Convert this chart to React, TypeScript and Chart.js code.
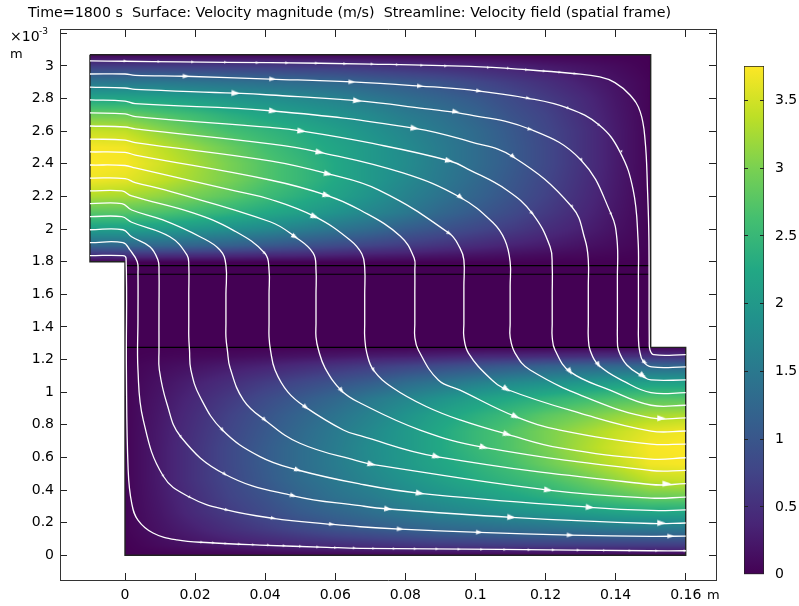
import React, { useEffect, useRef } from "react";
import { Chart, registerables } from "chart.js";

Chart.register(...registerables);

const TITLE = "Time=1800 s  Surface: Velocity magnitude (m/s)  Streamline: Velocity field (spatial frame)";
const FONT = "'DejaVu Sans'";
const COLORBAR_MAX = 3.754;

const viridis = ["#440154", "#482576", "#414487", "#355f8d", "#2a788e", "#21918c", "#22a884", "#44bf70", "#7ad151", "#bddf26", "#fde725"];

// Velocity magnitude (m/s), x in m, y in 1e-3 m
const topX = [-0.01, 0, 0.01, 0.02, 0.03, 0.04, 0.05, 0.06, 0.07, 0.08, 0.09, 0.1, 0.11, 0.12, 0.13, 0.14, 0.15];
const topY = [1.8, 1.84, 1.9, 2.0, 2.1, 2.2, 2.3, 2.4, 2.5, 2.6, 2.7, 2.8, 2.9, 3.0, 3.07];
const topV = [
  [0.05, 0.05, 0.04, 0.04, 0.04, 0.03, 0.03, 0.03, 0.03, 0.02, 0.02, 0.02, 0.02, 0.01, 0.01, 0.0, 0.0],
  [0.5, 0.5, 0.5, 0.48, 0.45, 0.42, 0.4, 0.35, 0.3, 0.27, 0.22, 0.18, 0.14, 0.1, 0.07, 0.04, 0.0],
  [1.25, 1.25, 1.25, 1.2, 1.15, 1.05, 0.95, 0.85, 0.75, 0.65, 0.55, 0.45, 0.35, 0.27, 0.18, 0.1, 0.02],
  [2.1, 2.1, 2.05, 1.95, 1.85, 1.75, 1.6, 1.45, 1.3, 1.1, 0.95, 0.8, 0.65, 0.48, 0.33, 0.17, 0.02],
  [2.75, 2.75, 2.68, 2.55, 2.4, 2.25, 2.1, 1.9, 1.7, 1.5, 1.25, 1.05, 0.85, 0.63, 0.42, 0.21, 0.03],
  [3.3, 3.25, 3.12, 2.95, 2.78, 2.55, 2.35, 2.15, 1.9, 1.65, 1.42, 1.2, 0.97, 0.73, 0.48, 0.24, 0.03],
  [3.68, 3.6, 3.42, 3.2, 2.98, 2.72, 2.5, 2.25, 2.0, 1.75, 1.52, 1.28, 1.03, 0.78, 0.52, 0.26, 0.03],
  [3.75, 3.72, 3.5, 3.25, 2.98, 2.72, 2.5, 2.25, 2.0, 1.8, 1.55, 1.33, 1.08, 0.82, 0.55, 0.27, 0.03],
  [3.72, 3.68, 3.4, 3.15, 2.88, 2.62, 2.4, 2.2, 2.0, 1.78, 1.55, 1.33, 1.08, 0.82, 0.55, 0.27, 0.03],
  [3.45, 3.4, 3.12, 2.85, 2.62, 2.45, 2.3, 2.1, 1.9, 1.7, 1.5, 1.3, 1.05, 0.8, 0.55, 0.27, 0.03],
  [2.92, 2.9, 2.72, 2.55, 2.35, 2.2, 2.05, 1.9, 1.75, 1.55, 1.4, 1.2, 0.95, 0.75, 0.5, 0.25, 0.03],
  [2.2, 2.2, 2.15, 2.05, 1.95, 1.85, 1.75, 1.65, 1.5, 1.35, 1.2, 1.05, 0.85, 0.65, 0.45, 0.22, 0.03],
  [1.5, 1.5, 1.5, 1.45, 1.4, 1.35, 1.3, 1.25, 1.15, 1.05, 0.95, 0.8, 0.65, 0.5, 0.33, 0.18, 0.03],
  [0.65, 0.65, 0.65, 0.65, 0.65, 0.65, 0.62, 0.6, 0.55, 0.5, 0.45, 0.4, 0.33, 0.25, 0.18, 0.1, 0.0],
  [0.03, 0.03, 0.03, 0.03, 0.03, 0.03, 0.03, 0.03, 0.03, 0.02, 0.02, 0.02, 0.02, 0.01, 0.01, 0.0, 0.0],
];

const middleX = [0, 0.15];
const middleY = [1.27, 1.8];
const middleV = [
  [0, 0],
  [0, 0],
];

const bottomX = [0, 0.01, 0.02, 0.03, 0.04, 0.05, 0.06, 0.07, 0.08, 0.09, 0.1, 0.11, 0.12, 0.13, 0.14, 0.15, 0.16];
const bottomY = [0, 0.06, 0.16, 0.26, 0.36, 0.46, 0.56, 0.66, 0.76, 0.86, 0.96, 1.06, 1.16, 1.22, 1.275];
const bottomV = [
  [0.0, 0.0, 0.01, 0.01, 0.02, 0.02, 0.02, 0.03, 0.03, 0.03, 0.03, 0.03, 0.03, 0.03, 0.03, 0.03, 0.03],
  [0.0, 0.1, 0.18, 0.25, 0.33, 0.4, 0.45, 0.5, 0.55, 0.6, 0.62, 0.65, 0.65, 0.65, 0.65, 0.65, 0.65],
  [0.03, 0.18, 0.33, 0.5, 0.65, 0.8, 0.95, 1.05, 1.15, 1.25, 1.3, 1.35, 1.4, 1.45, 1.5, 1.5, 1.5],
  [0.03, 0.22, 0.45, 0.65, 0.85, 1.05, 1.2, 1.35, 1.5, 1.65, 1.75, 1.85, 1.95, 2.05, 2.15, 2.2, 2.2],
  [0.03, 0.25, 0.5, 0.75, 0.95, 1.2, 1.4, 1.55, 1.75, 1.9, 2.05, 2.2, 2.35, 2.55, 2.72, 2.9, 2.92],
  [0.03, 0.27, 0.55, 0.8, 1.05, 1.3, 1.5, 1.7, 1.9, 2.1, 2.3, 2.45, 2.62, 2.85, 3.12, 3.4, 3.45],
  [0.03, 0.27, 0.55, 0.82, 1.08, 1.33, 1.55, 1.78, 2.0, 2.2, 2.4, 2.62, 2.88, 3.15, 3.4, 3.68, 3.72],
  [0.03, 0.27, 0.55, 0.82, 1.08, 1.33, 1.55, 1.8, 2.0, 2.25, 2.5, 2.72, 2.98, 3.25, 3.5, 3.72, 3.75],
  [0.03, 0.26, 0.52, 0.78, 1.03, 1.28, 1.52, 1.75, 2.0, 2.25, 2.5, 2.72, 2.98, 3.2, 3.42, 3.6, 3.68],
  [0.03, 0.24, 0.48, 0.73, 0.97, 1.2, 1.42, 1.65, 1.9, 2.15, 2.35, 2.55, 2.78, 2.95, 3.12, 3.25, 3.3],
  [0.03, 0.21, 0.42, 0.63, 0.85, 1.05, 1.25, 1.5, 1.7, 1.9, 2.1, 2.25, 2.4, 2.55, 2.68, 2.75, 2.75],
  [0.02, 0.17, 0.33, 0.48, 0.65, 0.8, 0.95, 1.1, 1.3, 1.45, 1.6, 1.75, 1.85, 1.95, 2.05, 2.1, 2.1],
  [0.02, 0.1, 0.18, 0.27, 0.35, 0.45, 0.55, 0.65, 0.75, 0.85, 0.95, 1.05, 1.15, 1.2, 1.25, 1.25, 1.25],
  [0.0, 0.04, 0.07, 0.1, 0.14, 0.18, 0.22, 0.27, 0.3, 0.35, 0.4, 0.42, 0.45, 0.48, 0.5, 0.5, 0.5],
  [0.0, 0.0, 0.01, 0.01, 0.01, 0.02, 0.02, 0.02, 0.02, 0.03, 0.03, 0.03, 0.03, 0.04, 0.04, 0.05, 0.05],
];

// Geometry outline and internal boundaries
const outline = [[-0.01, 3.069], [0.15, 3.069], [0.15, 1.275], [0.16, 1.275], [0.16, 0], [0, 0], [0, 1.8], [-0.01, 1.8], [-0.01, 3.069]];
const boundaryA = [[0.0005, 1.776], [0.15, 1.776]];
const boundaryB = [[0.0005, 1.723], [0.15, 1.723]];
const boundaryC = [[0.0005, 1.275], [0.15, 1.275]];

// Streamlines
const streamline1 = [[-0.01, 3.031], [0, 3.029], [0.0157, 3.025], [0.0414, 3.02], [0.0699, 3.012], [0.0984, 2.997], [0.1147, 2.977], [0.1278, 2.954], [0.1355, 2.933], [0.1398, 2.898], [0.1441, 2.822], [0.147, 2.72], [0.1484, 2.546], [0.1491, 2.24], [0.1495, 1.933], [0.1496, 1.32], [0.1498, 1.259], [0.1509, 1.23], [0.16, 1.23]];
const streamline2 = [[-0.01, 2.951], [0, 2.951], [0.0029, 2.943], [0.0171, 2.937], [0.0414, 2.92], [0.0648, 2.902], [0.0842, 2.877], [0.0984, 2.853], [0.115, 2.802], [0.1264, 2.741], [0.1353, 2.638], [0.1412, 2.475], [0.145, 2.24], [0.1464, 1.933], [0.1465, 1.7], [0.1465, 1.4], [0.1465, 1.338], [0.1468, 1.259], [0.1479, 1.187], [0.1503, 1.155], [0.16, 1.155]];
const streamline3 = [[-0.01, 2.871], [0, 2.865], [0.0029, 2.857], [0.0314, 2.833], [0.0414, 2.822], [0.0662, 2.787], [0.0842, 2.742], [0.0984, 2.7], [0.1156, 2.612], [0.1301, 2.424], [0.1387, 2.093], [0.1404, 1.933], [0.1405, 1.7], [0.1405, 1.4], [0.1405, 1.338], [0.1408, 1.259], [0.1432, 1.167], [0.1479, 1.095], [0.1501, 1.075], [0.16, 1.075]];
const streamline4 = [[-0.01, 2.792], [0, 2.785], [0.0029, 2.769], [0.0422, 2.724], [0.0827, 2.618], [0.0984, 2.536], [0.1107, 2.444], [0.1275, 2.137], [0.1313, 1.933], [0.1322, 1.811], [0.1322, 1.65], [0.1322, 1.42], [0.1322, 1.338], [0.1327, 1.259], [0.1351, 1.167], [0.1427, 1.063], [0.1501, 0.997], [0.16, 0.997]];
const streamline5 = [[-0.01, 2.712], [0, 2.706], [0.0029, 2.69], [0.0414, 2.623], [0.0504, 2.601], [0.0699, 2.528], [0.0925, 2.419], [0.0984, 2.362], [0.1089, 2.24], [0.1162, 2.097], [0.1213, 1.892], [0.1219, 1.774], [0.1219, 1.6], [0.1219, 1.42], [0.1219, 1.338], [0.1227, 1.259], [0.127, 1.126], [0.1384, 1.013], [0.1501, 0.92], [0.16, 0.92]];
const streamline6 = [[-0.01, 2.632], [0, 2.626], [0.0029, 2.614], [0.0414, 2.522], [0.0556, 2.471], [0.0793, 2.344], [0.0956, 2.195], [0.1051, 2.037], [0.1084, 1.933], [0.1099, 1.8], [0.1099, 1.65], [0.1099, 1.42], [0.1099, 1.338], [0.1113, 1.24], [0.1156, 1.136], [0.1335, 0.952], [0.1501, 0.842], [0.16, 0.842]];
const streamline7 = [[-0.01, 2.552], [0, 2.546], [0.0029, 2.53], [0.0414, 2.418], [0.058, 2.338], [0.0723, 2.24], [0.0925, 1.974], [0.0956, 1.883], [0.0967, 1.811], [0.0967, 1.65], [0.0967, 1.42], [0.0967, 1.338], [0.098, 1.24], [0.1041, 1.087], [0.1089, 1.018], [0.1298, 0.872], [0.1501, 0.762], [0.16, 0.762]];
const streamline8 = [[-0.01, 2.473], [0, 2.47], [0.0029, 2.454], [0.0414, 2.301], [0.0576, 2.207], [0.0671, 2.117], [0.0785, 1.958], [0.0825, 1.823], [0.0827, 1.749], [0.0827, 1.6], [0.0827, 1.42], [0.0827, 1.338], [0.0837, 1.259], [0.0894, 1.075], [0.0956, 1.013], [0.1115, 0.85], [0.1241, 0.768], [0.1501, 0.682], [0.16, 0.682]];
const streamline9 = [[-0.01, 2.393], [0, 2.39], [0.0029, 2.375], [0.0314, 2.234], [0.0414, 2.183], [0.0542, 2.076], [0.0642, 1.933], [0.0676, 1.847], [0.0684, 1.761], [0.0684, 1.6], [0.0684, 1.42], [0.0684, 1.338], [0.069, 1.24], [0.0709, 1.136], [0.0765, 1.026], [0.0861, 0.911], [0.0956, 0.83], [0.1091, 0.742], [0.1241, 0.658], [0.1501, 0.59], [0.16, 0.598]];
const streamline10 = [[-0.01, 2.313], [0, 2.31], [0.0029, 2.285], [0.0114, 2.24], [0.0414, 2.045], [0.0485, 1.953], [0.0537, 1.853], [0.0545, 1.749], [0.0545, 1.6], [0.0545, 1.42], [0.0545, 1.338], [0.0552, 1.26], [0.0571, 1.148], [0.0618, 1.009], [0.0671, 0.934], [0.0842, 0.768], [0.1024, 0.662], [0.1501, 0.52], [0.16, 0.521]];
const streamline11 = [[-0.01, 2.234], [-0.0009, 2.234], [0.0019, 2.203], [0.0194, 2.099], [0.0308, 1.994], [0.0399, 1.852], [0.0411, 1.749], [0.0411, 1.6], [0.0411, 1.42], [0.0411, 1.338], [0.0415, 1.26], [0.0428, 1.136], [0.0465, 1.0], [0.0516, 0.907], [0.0623, 0.768], [0.0671, 0.733], [0.0889, 0.605], [0.1501, 0.434], [0.16, 0.439]];
const streamline12 = [[-0.01, 2.156], [-0.0009, 2.156], [0.0019, 2.117], [0.0108, 2.056], [0.0214, 1.953], [0.0271, 1.872], [0.0288, 1.78], [0.0288, 1.6], [0.0288, 1.42], [0.0288, 1.338], [0.0292, 1.26], [0.03, 1.148], [0.0338, 0.952], [0.0399, 0.83], [0.0499, 0.687], [0.0671, 0.574], [0.0704, 0.558], [0.1208, 0.4], [0.1501, 0.351], [0.16, 0.357]];
const streamline13 = [[-0.01, 2.076], [-0.0009, 2.076], [0.0019, 2.042], [0.0128, 1.953], [0.0177, 1.841], [0.0182, 1.78], [0.0182, 1.6], [0.0182, 1.42], [0.0182, 1.338], [0.0184, 1.26], [0.0188, 1.136], [0.0214, 0.972], [0.0278, 0.768], [0.0385, 0.605], [0.0493, 0.523], [0.0671, 0.437], [0.0842, 0.38], [0.1327, 0.294], [0.1501, 0.275], [0.16, 0.278]];
const streamline14 = [[-0.01, 1.996], [-0.0006, 1.996], [0.0019, 1.953], [0.0071, 1.892], [0.0094, 1.811], [0.0097, 1.749], [0.0097, 1.5], [0.0097, 1.259], [0.0098, 1.136], [0.0119, 0.934], [0.0159, 0.727], [0.0285, 0.497], [0.048, 0.365], [0.0671, 0.304], [0.0751, 0.284], [0.1103, 0.233], [0.1501, 0.195], [0.16, 0.198]];
const streamline15 = [[-0.01, 1.917], [-0.0006, 1.917], [0.0014, 1.872], [0.0035, 1.8], [0.0037, 1.731], [0.0037, 1.45], [0.0037, 1.136], [0.0052, 0.83], [0.0109, 0.486], [0.0185, 0.356], [0.029, 0.278], [0.0423, 0.227], [0.059, 0.19], [0.0671, 0.175], [0.0785, 0.161], [0.1011, 0.141], [0.127, 0.124], [0.1501, 0.116], [0.16, 0.118]];
const streamline16 = [[-0.01, 1.837], [-0.0006, 1.837], [0.0003, 1.821], [0.0004, 1.136], [0.0009, 0.523], [0.0019, 0.321], [0.0037, 0.216], [0.008, 0.137], [0.0148, 0.094], [0.0243, 0.077], [0.0385, 0.063], [0.0576, 0.049], [0.0671, 0.043], [0.107, 0.036], [0.1498, 0.028], [0.16, 0.028]];

// Arrow heads on the streamlines
const arrows1 = [[0, 3.031], [0.0097, 3.027], [0.0193, 3.025], [0.0287, 3.023], [0.0378, 3.02], [0.0462, 3.019], [0.0547, 3.017], [0.0628, 3.014], [0.0705, 3.012], [0.0777, 3.008], [0.0847, 3.004], [0.0915, 3.0], [0.1037, 2.99], [0.1094, 2.986], [0.1146, 2.977], [0.1196, 2.969], [0.1241, 2.961], [0.1284, 2.953]];
const arrows2 = [[0.0174, 2.937], [0.0421, 2.92], [0.0647, 2.902], [0.0842, 2.877], [0.101, 2.847], [0.1151, 2.802], [0.1265, 2.741], [0.1353, 2.638], [0.1417, 2.475], [0.1484, 1.183]];
const arrows3 = [[0.0316, 2.833], [0.0663, 2.787], [0.0944, 2.72], [0.1156, 2.612], [0.1303, 2.424], [0.1387, 2.093], [0.1479, 1.099]];
const arrows4 = [[0.0423, 2.724], [0.0827, 2.618], [0.1108, 2.444], [0.1276, 2.137], [0.1351, 1.167]];
const arrows5 = [[0.0504, 2.601], [0.0925, 2.419], [0.1162, 2.097], [0.127, 1.126]];
const arrows6 = [[0.0556, 2.471], [0.0958, 2.195], [0.1531, 0.84]];
const arrows7 = [[0.058, 2.338], [0.0925, 1.974], [0.1089, 1.018]];
const arrows8 = [[0.0576, 2.207], [0.1115, 0.85]];
const arrows9 = [[0.0542, 2.076], [0.0709, 1.136], [0.1091, 0.742]];
const arrows10 = [[0.0485, 1.953], [0.0618, 1.009], [0.1024, 0.662]];
const arrows11 = [[0.0399, 1.852], [0.0516, 0.907], [0.0889, 0.605], [0.1546, 0.439]];
const arrows12 = [[0.0399, 0.83], [0.0704, 0.558], [0.1208, 0.4]];
const arrows13 = [[0.0278, 0.768], [0.0493, 0.523], [0.0842, 0.38], [0.1327, 0.294]];
const arrows14 = [[0.0159, 0.727], [0.0285, 0.497], [0.048, 0.365], [0.0751, 0.284], [0.1103, 0.233], [0.1531, 0.198]];
const arrows15 = [[0.0109, 0.486], [0.0185, 0.356], [0.029, 0.278], [0.0423, 0.227], [0.059, 0.19], [0.0785, 0.161], [0.1011, 0.141], [0.127, 0.124], [0.1557, 0.118]];
const arrows16 = [[0.0219, 0.08], [0.0252, 0.077], [0.0288, 0.072], [0.0326, 0.069], [0.0366, 0.065], [0.0409, 0.063], [0.0454, 0.059], [0.0501, 0.055], [0.055, 0.051], [0.0601, 0.047], [0.0654, 0.045], [0.071, 0.042], [0.0768, 0.041], [0.0828, 0.04], [0.089, 0.039], [0.0953, 0.037], [0.1018, 0.036], [0.1084, 0.035], [0.1153, 0.034], [0.1222, 0.033], [0.1293, 0.032], [0.1368, 0.03], [0.1441, 0.029], [0.1517, 0.028], [0.1598, 0.028]];

const streamlines = [streamline1, streamline2, streamline3, streamline4, streamline5, streamline6, streamline7, streamline8, streamline9, streamline10, streamline11, streamline12, streamline13, streamline14, streamline15, streamline16];
const arrowSets = [arrows1, arrows2, arrows3, arrows4, arrows5, arrows6, arrows7, arrows8, arrows9, arrows10, arrows11, arrows12, arrows13, arrows14, arrows15, arrows16];

const fields = [
  { xs: topX, ys: topY, vs: topV },
  { xs: middleX, ys: middleY, vs: middleV },
  { xs: bottomX, ys: bottomY, vs: bottomV },
];

const toXY = (p: number[][]) => p.map(([x, y]) => ({ x, y }));

const hexToRgb = (h: string) => [1, 3, 5].map((i) => parseInt(h.slice(i, i + 2), 16));
const viridisRgb = viridis.map(hexToRgb);

function colorFor(v: number) {
  const t = Math.max(0, Math.min(1, v / COLORBAR_MAX)) * (viridisRgb.length - 1);
  const i = Math.min(viridisRgb.length - 2, Math.floor(t));
  const f = t - i;
  const a = viridisRgb[i];
  const b = viridisRgb[i + 1];
  return [a[0] + (b[0] - a[0]) * f, a[1] + (b[1] - a[1]) * f, a[2] + (b[2] - a[2]) * f];
}

function locate(list: number[], v: number) {
  let i = 0;
  while (i < list.length - 2 && v > list[i + 1]) i++;
  return [i, Math.max(0, Math.min(1, (v - list[i]) / (list[i + 1] - list[i])))];
}

function sampleField(x: number, y: number): number | null {
  for (const f of fields) {
    const n = f.xs.length;
    const m = f.ys.length;
    if (x < f.xs[0] || x > f.xs[n - 1] || y < f.ys[0] || y > f.ys[m - 1]) continue;
    const [i, u] = locate(f.xs, x);
    const [j, w] = locate(f.ys, y);
    const a = f.vs[j][i] + (f.vs[j][i + 1] - f.vs[j][i]) * u;
    const b = f.vs[j + 1][i] + (f.vs[j + 1][i + 1] - f.vs[j + 1][i]) * u;
    return a + (b - a) * w;
  }
  return null;
}

const surfacePlugin = {
  id: "surface",
  beforeDatasetsDraw(chart: any) {
    const { ctx, chartArea, scales } = chart;
    const w = Math.round(chartArea.right - chartArea.left);
    const h = Math.round(chartArea.bottom - chartArea.top);
    const off = document.createElement("canvas");
    off.width = w;
    off.height = h;
    const octx = off.getContext("2d")!;
    const img = octx.createImageData(w, h);
    for (let py = 0; py < h; py++) {
      const yv = scales.y.getValueForPixel(chartArea.top + py + 0.5);
      for (let px = 0; px < w; px++) {
        const xv = scales.x.getValueForPixel(chartArea.left + px + 0.5);
        const v = sampleField(xv, yv);
        if (v === null) continue;
        const c = colorFor(v);
        const k = (py * w + px) * 4;
        img.data[k] = c[0];
        img.data[k + 1] = c[1];
        img.data[k + 2] = c[2];
        img.data[k + 3] = 255;
      }
    }
    octx.putImageData(img, 0, 0);
    ctx.drawImage(off, chartArea.left, chartArea.top);
  },
};

const labelPlugin = {
  id: "axisLabels",
  afterDraw(chart: any) {
    const { ctx } = chart;
    ctx.save();
    ctx.fillStyle = "#000";
    ctx.textAlign = "left";
    ctx.textBaseline = "alphabetic";
    ctx.font = `14px ${FONT}`;
    ctx.fillText("×10", 10, 41);
    ctx.font = `13px ${FONT}`;
    ctx.fillText("m", 10, 58);
    ctx.fillText("m", 707, 599);
    ctx.font = `9px ${FONT}`;
    ctx.fillText("-3", 39, 34);
    ctx.restore();
  },
};

function headingDeg(chart: any, line: number[][], pt: { x: number; y: number }) {
  const X = (v: number) => chart.scales.x.getPixelForValue(v);
  const Y = (v: number) => chart.scales.y.getPixelForValue(v);
  const px = X(pt.x);
  const py = Y(pt.y);
  let best = Infinity;
  let angle = 0;
  for (let i = 0; i < line.length - 1; i++) {
    const ax = X(line[i][0]);
    const ay = Y(line[i][1]);
    const bx = X(line[i + 1][0]);
    const by = Y(line[i + 1][1]);
    const dx = bx - ax;
    const dy = by - ay;
    const t = Math.max(0, Math.min(1, ((px - ax) * dx + (py - ay) * dy) / (dx * dx + dy * dy)));
    const d = Math.hypot(ax + dx * t - px, ay + dy * t - py);
    if (d < best) {
      best = d;
      angle = (Math.atan2(dy, dx) * 180) / Math.PI;
    }
  }
  return angle + 90;
}

// Arrow glyphs are longer than wide, and grow with the local speed
const arrowCache = new Map<number, HTMLCanvasElement>();
function arrowGlyph(pt: { x: number; y: number }) {
  const v = sampleField(pt.x, pt.y) ?? 0;
  const len = Math.max(2.4, Math.min(8.5, 3.2 + 4.5 * (v - 0.45)));
  const key = Math.round(len * 2);
  const cached = arrowCache.get(key);
  if (cached) return cached;
  const L = key / 2;
  const W = Math.max(2.4, L * 0.72);
  const c = document.createElement("canvas");
  c.width = Math.ceil(W) + 2;
  c.height = Math.ceil(L) + 2;
  const g = c.getContext("2d")!;
  g.fillStyle = "#fff";
  g.beginPath();
  g.moveTo(c.width / 2, (c.height - L) / 2);
  g.lineTo(c.width / 2 + W / 2, (c.height + L) / 2);
  g.lineTo(c.width / 2 - W / 2, (c.height + L) / 2);
  g.closePath();
  g.fill();
  arrowCache.set(key, c);
  return c;
}

const frameColor = "#333";

export default function App() {
  const mainRef = useRef<HTMLCanvasElement>(null);
  const barRef = useRef<HTMLCanvasElement>(null);

  useEffect(() => {
    document.body.style.margin = "0";
    const rangeX = { min: -0.01855, max: 0.16864 };
    const rangeY = { min: -0.1514, max: 3.2207 };
    const tickGrid = { drawOnChartArea: false, tickLength: -7, color: "#222", lineWidth: 1 };
    const border = { color: frameColor, width: 1 };
    const tickFont = { family: FONT, size: 14 };

    const lineSets = streamlines.map((line) => ({
      data: toXY(line),
      showLine: true,
      borderColor: "#fff",
      borderWidth: 1.3,
      tension: 0.42,
      pointRadius: 0,
      order: 2,
    }));
    const arrowDatasets = arrowSets.map((set, k) => ({
      data: toXY(set),
      showLine: false,
      backgroundColor: "#fff",
      borderColor: "#fff",
      borderWidth: 0,
      pointStyle: (c: any) => (c.raw ? arrowGlyph(c.raw) : "triangle"),
      pointRadius: 3,
      pointRotation: (c: any) => (c.raw ? headingDeg(c.chart, streamlines[k], c.raw) : 0),
      order: 1,
    }));
    const edgeSets = [outline, boundaryA, boundaryB, boundaryC].map((p, i) => ({
      data: toXY(p),
      showLine: true,
      borderColor: i === 0 ? "#222" : "#000",
      borderWidth: i === 0 ? 1.4 : 1.2,
      tension: 0,
      pointRadius: 0,
      order: 3,
    }));

    const chart = new Chart(mainRef.current!, {
      type: "scatter",
      data: { datasets: [...edgeSets, ...lineSets, ...arrowDatasets] as any },
      plugins: [surfacePlugin, labelPlugin],
      options: {
        animation: false,
        responsive: false,
        clip: false,
        layout: { padding: { left: 28, right: 0, top: 0, bottom: 0 } },
        plugins: {
          legend: { display: false },
          tooltip: { enabled: false },
          title: {
            display: true,
            text: TITLE,
            align: "start",
            color: "#000",
            font: { family: FONT, size: 14.24, weight: "normal", lineHeight: 1.2 },
            padding: { top: 5, bottom: 7.9 },
          },
        },
        scales: {
          x: {
            type: "linear",
            position: "bottom",
            ...rangeX,
            afterFit: (s: any) => { s.height = 26; },
            border,
            grid: tickGrid,
            ticks: {
              stepSize: 0.02,
              includeBounds: false,
              autoSkip: false,
              maxRotation: 0,
              padding: 14,
              color: "#000",
              font: tickFont,
              callback: (v: any) => String(+Number(v).toFixed(2)),
            },
          },
          x2: {
            type: "linear",
            position: "top",
            ...rangeX,
            afterFit: (s: any) => { s.height = 0; },
            border,
            grid: tickGrid,
            ticks: { stepSize: 0.02, includeBounds: false, autoSkip: false, display: false },
          },
          y: {
            type: "linear",
            position: "left",
            ...rangeY,
            afterFit: (s: any) => { s.width = 32; },
            border,
            grid: tickGrid,
            ticks: {
              stepSize: 0.2,
              includeBounds: false,
              autoSkip: false,
              padding: 13,
              color: "#000",
              font: tickFont,
              callback: (v: any) => (Number(v) > 3.1 ? "" : String(+Number(v).toFixed(1))),
            },
          },
          y2: {
            type: "linear",
            position: "right",
            ...rangeY,
            afterFit: (s: any) => { s.width = 83; },
            border,
            grid: tickGrid,
            ticks: { stepSize: 0.2, includeBounds: false, autoSkip: false, display: false },
          },
        },
      } as any,
    });

    const barTickColor = (c: any) => (c.tick && c.tick.value === 0 ? "rgba(0,0,0,0)" : "#222");
    const barGrid = { drawOnChartArea: false, tickLength: -4, color: barTickColor, z: 1 };
    const bar = new Chart(barRef.current!, {
      type: "bar",
      data: {
        labels: ["Velocity magnitude (m/s)"],
        datasets: [
          {
            data: [[0, COLORBAR_MAX]],
            barPercentage: 1,
            categoryPercentage: 1,
            borderWidth: 1,
            borderColor: "#222",
            borderSkipped: false,
            backgroundColor: (c: any) => {
              const a = c.chart.chartArea;
              if (!a) return viridis[0];
              const g = c.chart.ctx.createLinearGradient(0, a.bottom, 0, a.top);
              viridis.forEach((col, i) => g.addColorStop(i / (viridis.length - 1), col));
              return g;
            },
          } as any,
        ],
      },
      options: {
        animation: false,
        responsive: false,
        layout: { padding: { left: 44, right: 0, top: 26, bottom: 31.3 } },
        plugins: { legend: { display: false }, tooltip: { enabled: false } },
        scales: {
          x: { display: false },
          y: {
            position: "right",
            min: 0,
            max: COLORBAR_MAX,
            afterFit: (s: any) => { s.width = 35; },
            border: { display: false },
            grid: barGrid,
            ticks: {
              stepSize: 0.5,
              includeBounds: false,
              padding: 15,
              color: "#000",
              font: tickFont,
              callback: (v: any) => String(+Number(v).toFixed(1)),
            },
          },
          yl: {
            type: "linear",
            position: "left",
            min: 0,
            max: COLORBAR_MAX,
            afterFit: (s: any) => { s.width = 0; },
            border: { display: false },
            grid: barGrid,
            ticks: { stepSize: 0.5, includeBounds: false, display: false },
          },
        },
      } as any,
    });

    return () => {
      chart.destroy();
      bar.destroy();
    };
  }, []);

  return (
    <div style={{ position: "relative", width: 799, height: 606, background: "#fff" }}>
      <canvas ref={mainRef} width={799} height={606} style={{ position: "absolute", left: 0, top: 0 }} />
      <canvas ref={barRef} width={99} height={566} style={{ position: "absolute", left: 700, top: 40 }} />
    </div>
  );
}
